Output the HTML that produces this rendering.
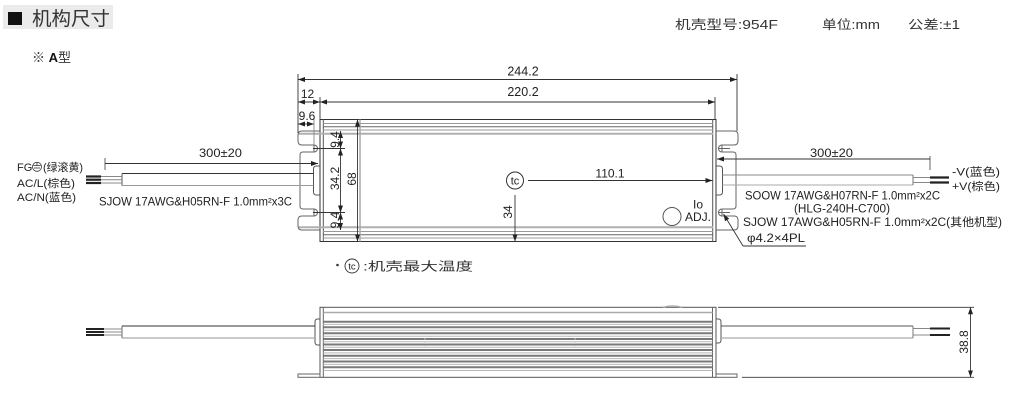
<!DOCTYPE html>
<html><head><meta charset="utf-8"><style>
html,body{margin:0;padding:0;background:#fff;}
svg{display:block;font-family:"Liberation Sans","Noto Sans CJK SC",sans-serif;}
</style></head><body>
<svg width="1010" height="407" viewBox="0 0 1010 407" xmlns="http://www.w3.org/2000/svg">
<defs>
<marker id="a" markerUnits="userSpaceOnUse" markerWidth="7" markerHeight="5" refX="7" refY="2.5" orient="auto-start-reverse"><path d="M0,0 L7,2.5 L0,5 z" fill="#222"/></marker>
</defs>
<rect width="1010" height="407" fill="#fff"/>

<rect x="3" y="5" width="110" height="24" fill="#ebebeb"/>
<rect x="8" y="12" width="14" height="13" fill="#111"/>
<text x="32" y="25" font-size="19" fill="#333" textLength="78" lengthAdjust="spacingAndGlyphs">机构尺寸</text>
<text x="32" y="62" font-size="13" fill="#333">※ <tspan font-weight="bold" fill="#111">A</tspan>型</text>

<g font-size="12.5" fill="#333">
<text x="675" y="29" textLength="103" lengthAdjust="spacingAndGlyphs">机壳型号:954F</text>
<text x="822" y="29" textLength="58" lengthAdjust="spacingAndGlyphs">单位:mm</text>
<text x="908" y="29" textLength="52" lengthAdjust="spacingAndGlyphs">公差:±1</text>
</g>

<g fill="none">
<rect x="320" y="119.5" width="396" height="122" stroke="#333" stroke-width="1"/>
<line x1="323.3" y1="119.5" x2="323.3" y2="241.5" stroke="#555"/>
<line x1="712.7" y1="119.5" x2="712.7" y2="241.5" stroke="#555"/>
<g stroke-width="1">
<line x1="323" y1="123.5" x2="713" y2="123.5" stroke="#999"/>
<line x1="323" y1="126.8" x2="713" y2="126.8" stroke="#666"/>
<line x1="323" y1="130" x2="713" y2="130" stroke="#999"/>
<line x1="298" y1="133.8" x2="713" y2="133.8" stroke="#b0b0b0" stroke-width="2"/>
<line x1="298" y1="227.2" x2="713" y2="227.2" stroke="#b0b0b0" stroke-width="2"/>
<line x1="323" y1="231.5" x2="713" y2="231.5" stroke="#999"/>
<line x1="323" y1="234.8" x2="713" y2="234.8" stroke="#666"/>
<line x1="323" y1="238" x2="713" y2="238" stroke="#999"/>
</g>
<line x1="360" y1="119.5" x2="360" y2="241.5" stroke="#aaa" stroke-width="1.5"/>

<path d="M320,131 H302 Q298,131 298,135 V141 Q298,145 302,145 H314 A3.5,3.5 0 0 1 314,152 H303 Q300,152 300,155 V206 Q300,209 303,209 H314 A3.5,3.5 0 0 1 314,216 H302 Q298,216 298,220 V226 Q298,230 302,230 H320" stroke="#666"/>
<line x1="314" y1="145.5" x2="314" y2="151.5" stroke="#666"/>
<line x1="314" y1="209.5" x2="314" y2="215.5" stroke="#666"/>
<path d="M716,131 H734 Q738,131 738,135 V141 Q738,145 734,145 H722 A3.5,3.5 0 0 0 722,152 H733 Q736,152 736,155 V206 Q736,209 733,209 H722 A3.5,3.5 0 0 0 722,216 H734 Q738,216 738,220 V226 Q738,230 734,230 H716" stroke="#666"/>
<line x1="722" y1="145.5" x2="722" y2="151.5" stroke="#666"/>
<line x1="722" y1="209.5" x2="722" y2="215.5" stroke="#666"/>
<line x1="719" y1="148.5" x2="730" y2="148.5" stroke="#666"/>
<line x1="719" y1="212.5" x2="730" y2="212.5" stroke="#666"/>

<path d="M320,166 H316.5 Q313.5,166 313.5,169 V192 Q313.5,195 316.5,195 H320" stroke="#555"/>
<path d="M716,166 H719.5 Q722.5,166 722.5,169 V192 Q722.5,195 719.5,195 H716" stroke="#555"/>

<line x1="122" y1="173.5" x2="313.5" y2="173.5" stroke="#333"/>
<line x1="122" y1="185.5" x2="313.5" y2="185.5" stroke="#999"/>
<line x1="122" y1="173.5" x2="122" y2="185.5" stroke="#555"/>
<g stroke="#888" stroke-width="1">
<line x1="100" y1="176.5" x2="122" y2="176.5"/>
<line x1="100" y1="179.7" x2="122" y2="179.7"/>
<line x1="100" y1="183" x2="122" y2="183"/>
</g>
<g stroke="#222" stroke-width="2.2">
<line x1="86" y1="176.5" x2="101" y2="176.5"/>
<line x1="86" y1="179.7" x2="101" y2="179.7"/>
<line x1="86" y1="183" x2="101" y2="183"/>
</g>

<line x1="722.5" y1="175" x2="913" y2="175" stroke="#888"/>
<line x1="722.5" y1="185" x2="913" y2="185" stroke="#aaa"/>
<line x1="913" y1="175" x2="913" y2="185" stroke="#777"/>
<g stroke="#888"><line x1="913" y1="177.5" x2="931" y2="177.5"/><line x1="913" y1="182.5" x2="931" y2="182.5"/></g>
<g stroke="#222" stroke-width="2.2"><line x1="930" y1="177.5" x2="949" y2="177.5"/><line x1="930" y1="182.5" x2="949" y2="182.5"/></g>

<g stroke="#333" stroke-width="0.9">
<line x1="298" y1="74" x2="298" y2="133" />
<line x1="737" y1="74" x2="737" y2="131" />
<line x1="298" y1="79.5" x2="737" y2="79.5" marker-start="url(#a)" marker-end="url(#a)"/>
<line x1="320" y1="97" x2="320" y2="119.5"/>
<line x1="715" y1="97" x2="715" y2="119.5"/>
<line x1="320" y1="102" x2="715" y2="102" marker-start="url(#a)" marker-end="url(#a)"/>
<line x1="298" y1="102" x2="320" y2="102" marker-start="url(#a)" marker-end="url(#a)"/>
<line x1="298" y1="124" x2="314" y2="124" marker-start="url(#a)" marker-end="url(#a)"/>
<line x1="314" y1="118" x2="314" y2="145" stroke="#888"/>
<line x1="357.5" y1="119.5" x2="357.5" y2="241.5" marker-start="url(#a)" marker-end="url(#a)"/>
<line x1="313" y1="148.5" x2="345" y2="148.5"/>
<line x1="313" y1="212.5" x2="345" y2="212.5"/>
<line x1="340.5" y1="131" x2="340.5" y2="148.5" marker-start="url(#a)" marker-end="url(#a)"/>
<line x1="340.5" y1="148.5" x2="340.5" y2="212.5" marker-start="url(#a)" marker-end="url(#a)"/>
<line x1="340.5" y1="212.5" x2="340.5" y2="230" marker-start="url(#a)" marker-end="url(#a)"/>
<line x1="528" y1="180.5" x2="712.5" y2="180.5" marker-end="url(#a)"/>
<line x1="515" y1="195" x2="515" y2="241.5" marker-end="url(#a)"/>
<line x1="105" y1="158" x2="105" y2="170" stroke="#555"/>
<line x1="105" y1="163.5" x2="318" y2="163.5" marker-end="url(#a)"/>
<line x1="930" y1="156" x2="930" y2="170" stroke="#555"/>
<line x1="717" y1="159" x2="930" y2="159" marker-start="url(#a)"/>
<line x1="743" y1="246" x2="723.5" y2="214" marker-end="url(#a)"/>
<line x1="743" y1="246" x2="806" y2="246"/>
</g>

<circle cx="515" cy="180.5" r="8.5" stroke="#333"/>
<circle cx="672" cy="216.5" r="9" stroke="#555"/>
</g>

<g font-size="12" fill="#222">
<text x="515" y="184.5" font-size="11" text-anchor="middle">tc</text>
<text x="523" y="75.5" text-anchor="middle" font-size="12.5">244.2</text>
<text x="523" y="96" text-anchor="middle" font-size="12.5">220.2</text>
<text x="307.5" y="98" text-anchor="middle">12</text>
<text x="307" y="120" text-anchor="middle">9.6</text>
<text x="610" y="177.5" text-anchor="middle">110.1</text>
<text x="698" y="208.5" text-anchor="middle">Io</text>
<text x="698" y="221" text-anchor="middle">ADJ.</text>
<text transform="translate(512,212) rotate(-90)" text-anchor="middle">34</text>
<text transform="translate(356,179) rotate(-90)" text-anchor="middle">68</text>
<text transform="translate(339,178.5) rotate(-90)" text-anchor="middle">34.2</text>
<text transform="translate(339,139.5) rotate(-90)" text-anchor="middle">9.4</text>
<text transform="translate(339,220) rotate(-90)" text-anchor="middle">9.4</text>
<text x="199" y="157" textLength="43" lengthAdjust="spacingAndGlyphs">300±20</text>
<text x="810" y="157" textLength="43" lengthAdjust="spacingAndGlyphs">300±20</text>
</g>

<g font-size="11" fill="#222">
<text x="17" y="171">FG</text>
<circle cx="37" cy="166.8" r="4.5" fill="none" stroke="#333" stroke-width="0.8"/>
<g stroke="#333" stroke-width="0.8"><line x1="33.5" y1="165.5" x2="40.5" y2="165.5"/><line x1="34" y1="168" x2="40" y2="168"/><line x1="37" y1="163" x2="37" y2="165.5"/></g>
<text x="43" y="171" textLength="40" lengthAdjust="spacingAndGlyphs">(绿滚黄)</text>
<text x="17" y="187" textLength="58" lengthAdjust="spacingAndGlyphs">AC/L(棕色)</text>
<text x="17" y="201" textLength="59" lengthAdjust="spacingAndGlyphs">AC/N(蓝色)</text>
<text x="99" y="205.5" font-size="11.5" textLength="193" lengthAdjust="spacingAndGlyphs">SJOW 17AWG&amp;H05RN-F 1.0mm²x3C</text>
</g>

<g font-size="11" fill="#222">
<text x="952" y="175.5" textLength="48" lengthAdjust="spacingAndGlyphs">-V(蓝色)</text>
<text x="952" y="190" textLength="48" lengthAdjust="spacingAndGlyphs">+V(棕色)</text>
<text x="745" y="199.5" font-size="11.5" textLength="195" lengthAdjust="spacingAndGlyphs">SOOW 17AWG&amp;H07RN-F 1.0mm²x2C</text>
<text x="794" y="212.5" font-size="11.5" textLength="96" lengthAdjust="spacingAndGlyphs">(HLG-240H-C700)</text>
<text x="743" y="226" font-size="11.5" textLength="259" lengthAdjust="spacingAndGlyphs">SJOW  17AWG&amp;H05RN-F 1.0mm²x2C(其他机型)</text>
<text x="747" y="242" font-size="11.5" textLength="58" lengthAdjust="spacingAndGlyphs">φ4.2×4PL</text>
</g>

<circle cx="337.5" cy="265" r="1.3" fill="#333"/>
<circle cx="352" cy="266" r="7" fill="none" stroke="#333" stroke-width="0.9"/>
<text x="352" y="269.5" font-size="9.5" text-anchor="middle" fill="#222">tc</text>
<text x="363" y="270.5" font-size="12" fill="#333" textLength="110" lengthAdjust="spacingAndGlyphs">:机壳最大温度</text>

<g fill="none">
<rect x="320" y="307.3" width="396" height="70" stroke="#555"/>
<line x1="323.3" y1="307.3" x2="323.3" y2="377.3" stroke="#666"/>
<line x1="712.5" y1="307.3" x2="712.5" y2="377.3" stroke="#666"/>
<line x1="323.3" y1="312.5" x2="712.5" y2="312.5" stroke="#aaa" stroke-width="1.5"/>
<g stroke="#7a7a7a" stroke-width="2">
<line x1="323.3" y1="321.7" x2="712.5" y2="321.7"/>
<line x1="323.3" y1="327.2" x2="712.5" y2="327.2"/>
<line x1="323.3" y1="333.3" x2="712.5" y2="333.3"/>
<line x1="323.3" y1="339" x2="712.5" y2="339"/>
<line x1="323.3" y1="344.5" x2="712.5" y2="344.5"/>
<line x1="323.3" y1="350" x2="712.5" y2="350"/>
<line x1="323.3" y1="355.7" x2="712.5" y2="355.7"/>
<line x1="323.3" y1="361.5" x2="712.5" y2="361.5"/>
<line x1="323.3" y1="367.3" x2="712.5" y2="367.3"/>
</g>
<g stroke="#b8b8b8" stroke-width="1">
<line x1="323.3" y1="324.4" x2="712.5" y2="324.4"/>
<line x1="323.3" y1="330.3" x2="712.5" y2="330.3"/>
<line x1="323.3" y1="336.2" x2="712.5" y2="336.2"/>
<line x1="323.3" y1="341.8" x2="712.5" y2="341.8"/>
<line x1="323.3" y1="347.3" x2="712.5" y2="347.3"/>
<line x1="323.3" y1="352.9" x2="712.5" y2="352.9"/>
<line x1="323.3" y1="358.6" x2="712.5" y2="358.6"/>
<line x1="323.3" y1="364.4" x2="712.5" y2="364.4"/>
<line x1="323.3" y1="370.5" x2="712.5" y2="370.5"/>
</g>
<g stroke="#ccc" stroke-width="0.8" stroke-dasharray="2,2">
<line x1="425" y1="338" x2="425" y2="350"/>
<line x1="575" y1="338" x2="575" y2="350"/>
</g>
<path d="M663,307.3 Q672.5,304.5 682,307.3" stroke="#aaa" stroke-width="1.2"/>
<rect x="298" y="374" width="22" height="3.3" stroke="#666"/>
<rect x="716" y="374" width="21" height="3.3" stroke="#666"/>
<path d="M320,319 H317.5 Q315,319 315,322 V342 Q315,345 317.5,345 H320" stroke="#555"/>
<path d="M716,319 H718.5 Q721,319 721,322 V340 Q721,343 718.5,343 H716" stroke="#555"/>
<line x1="122" y1="326" x2="315" y2="326" stroke="#333"/>
<line x1="122" y1="338" x2="315" y2="338" stroke="#aaa" stroke-width="1.2"/>
<line x1="122" y1="326" x2="122" y2="338" stroke="#666"/>
<g stroke="#888"><line x1="103" y1="329" x2="122" y2="329"/><line x1="103" y1="332" x2="122" y2="332"/><line x1="103" y1="335" x2="122" y2="335"/></g>
<g stroke="#222" stroke-width="2"><line x1="86" y1="329" x2="104" y2="329"/><line x1="86" y1="332" x2="104" y2="332"/><line x1="86" y1="335" x2="104" y2="335"/></g>
<line x1="721" y1="326" x2="913" y2="326" stroke="#555"/>
<line x1="721" y1="338" x2="913" y2="338" stroke="#aaa" stroke-width="1.2"/>
<line x1="913" y1="326" x2="913" y2="338" stroke="#777"/>
<g stroke="#888"><line x1="913" y1="328.5" x2="931" y2="328.5"/><line x1="913" y1="335" x2="931" y2="335"/></g>
<g stroke="#222" stroke-width="2"><line x1="930" y1="328.5" x2="950" y2="328.5"/><line x1="930" y1="335" x2="950" y2="335"/></g>
<g stroke="#333" stroke-width="0.9">
<line x1="718" y1="307.3" x2="974" y2="307.3"/>
<line x1="742" y1="377.3" x2="974" y2="377.3"/>
<line x1="970.5" y1="307.3" x2="970.5" y2="377.3" marker-start="url(#a)" marker-end="url(#a)"/>
</g>
</g>
<text transform="translate(968,342) rotate(-90)" font-size="12" fill="#222" text-anchor="middle">38.8</text>
</svg>
</body></html>
